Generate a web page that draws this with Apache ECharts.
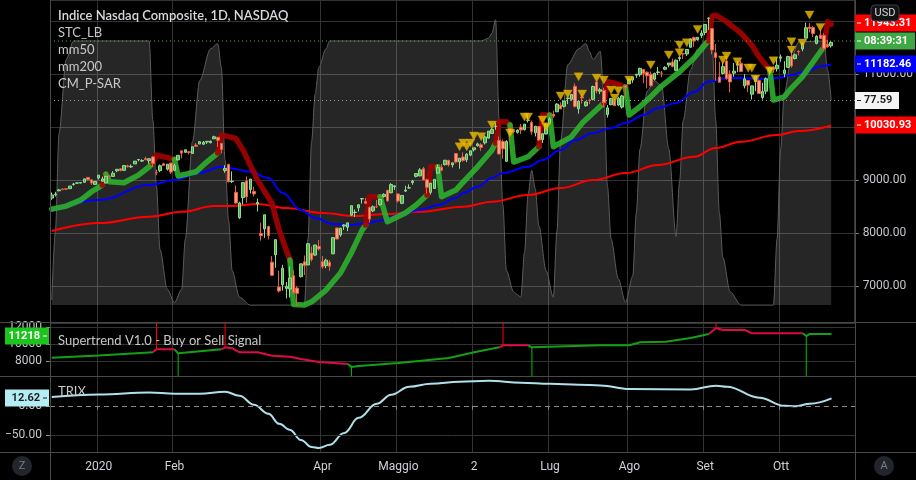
<!DOCTYPE html>
<html><head><meta charset="utf-8">
<script src="https://cdn.jsdelivr.net/npm/echarts@6/dist/echarts.min.js"></script>
<style>html,body{margin:0;padding:0;background:#000;}#c{width:916px;height:480px;}</style>
</head><body><div id="c"></div>
<script>
// ---- OHLC rows: [day, open, close, low, high] ----
const dec2019 = [[12,8660,8717,8626,8765],[13,8721,8735,8690,8779],[16,8797,8814,8790,8833],[17,8832,8823,8807,8839],[18,8836,8827,8817,8849],[19,8838,8887,8838,8887],[20,8917,8925,8895,8947],[23,8941,8946,8934,8956],[24,8944,8952,8937,8953],[26,8958,9023,8958,9023],[27,9050,9007,8988,9052],[30,9004,8945,8910,9012],[31,8918,8973,8912,8976]];
const jan2020 = [[2,9039,9093,9011,9093],[3,8977,9021,8977,9066],[6,8943,9071,8943,9072],[7,9070,9069,9043,9092],[8,9069,9129,9069,9168],[9,9175,9203,9149,9203],[10,9213,9179,9164,9218],[13,9183,9274,9183,9274],[14,9271,9251,9239,9292],[15,9248,9259,9232,9294],[16,9305,9357,9305,9357],[17,9384,9389,9354,9389],[21,9358,9370,9343,9393],[22,9405,9383,9378,9439],[23,9366,9402,9309,9402],[24,9437,9315,9246,9451],[27,9140,9139,9090,9196],[28,9178,9270,9150,9294],[29,9307,9276,9266,9329],[30,9205,9299,9180,9300],[31,9322,9151,9114,9324]];
const feb2020 = [[3,9183,9273,9181,9307],[4,9381,9467,9368,9467],[5,9552,9509,9410,9552],[6,9524,9572,9517,9572],[7,9535,9520,9485,9546],[10,9503,9629,9501,9629],[11,9661,9639,9622,9697],[12,9681,9726,9681,9726],[13,9676,9712,9672,9738],[14,9719,9732,9681,9732],[18,9704,9733,9696,9747],[19,9779,9817,9779,9838],[20,9807,9751,9627,9816],[21,9693,9577,9505,9695],[24,9180,9221,9138,9280],[25,9298,8966,8957,9303],[26,8970,8980,8943,9163],[27,8769,8566,8550,8899],[28,8290,8567,8264,8590]];
const mar2020 = [[2,8667,8952,8535,8952],[3,8986,8684,8573,9071],[4,8820,9019,8747,9019],[5,8785,8738,8689,8876],[6,8550,8576,8407,8650],[9,7991,7950,7857,8196],[10,8079,8344,7908,8345],[11,8123,7952,7878,8139],[12,7450,7201,7188,7565],[13,7589,7875,7343,7875],[16,6981,6905,6877,7290],[17,7025,7335,6914,7400],[18,6954,6990,6766,7075],[19,6944,7151,6781,7367],[20,7194,6880,6855,7297],[23,6961,6861,6631,7000],[24,7177,7418,7160,7418],[25,7458,7385,7207,7576],[26,7398,7798,7396,7798],[27,7621,7502,7461,7746],[30,7583,7774,7574,7774],[31,7748,7700,7670,7870]];
const apr2020 = [[1,7459,7361,7328,7566],[2,7383,7487,7335,7515],[3,7449,7374,7286,7490],[6,7607,7913,7602,7914],[7,8095,7887,7885,8095],[8,7964,8091,7929,8096],[9,8131,8153,8058,8167],[13,8110,8192,8036,8192],[14,8338,8516,8324,8516],[15,8387,8393,8304,8444],[16,8476,8533,8406,8540],[17,8644,8650,8556,8650],[20,8594,8561,8560,8661],[21,8484,8263,8196,8500],[22,8418,8495,8395,8521],[23,8498,8494,8473,8625],[24,8534,8634,8517,8634],[27,8689,8730,8668,8750],[28,8807,8607,8592,8814],[29,8761,8915,8748,8942],[30,8877,8890,8815,8902]];
const may2020 = [[1,8738,8605,8575,8746],[4,8561,8710,8544,8711],[5,8792,8810,8776,8893],[6,8851,8854,8838,8918],[7,8953,8980,8911,9004],[8,9070,9122,9050,9122],[11,9080,9192,9071,9224],[12,9216,9002,9002,9249],[13,9006,8863,8745,9027],[14,8768,8943,8727,8945],[15,8842,9014,8830,9017],[18,9131,9235,9119,9292],[19,9240,9185,9179,9305],[20,9291,9375,9276,9377],[21,9370,9284,9252,9385],[22,9288,9325,9237,9330],[26,9501,9340,9313,9505],[27,9346,9412,9214,9414],[28,9436,9369,9341,9523],[29,9382,9490,9338,9505]];
const jun2020 = [[1,9471,9552,9450,9553],[2,9573,9608,9540,9608],[3,9648,9683,9634,9704],[4,9665,9616,9552,9697],[5,9703,9814,9672,9845],[8,9793,9924,9779,9927],[9,9881,9953,9870,9990],[10,10012,10020,9949,10087],[11,9751,9493,9489,9822],[12,9728,9589,9403,9767],[15,9356,9726,9345,9752],[16,9979,9896,9729,9986],[17,9934,9911,9885,9953],[18,9901,9943,9877,9956],[19,10001,9946,9869,10058],[22,9952,10056,9937,10059],[23,10126,10131,10087,10221],[24,10087,9910,9856,10123],[25,9892,10017,9824,10017],[26,10010,9757,9736,10022],[29,9764,9875,9699,9875],[30,9870,10059,9867,10075]];
const jul2020 = [[1,10070,10155,10057,10185],[2,10242,10208,10174,10310],[6,10289,10434,10289,10451],[7,10415,10344,10341,10469],[8,10392,10492,10374,10493],[9,10540,10548,10434,10564],[10,10524,10617,10500,10617],[13,10771,10391,10370,10825],[14,10346,10488,10254,10490],[15,10569,10550,10444,10615],[16,10404,10474,10386,10487],[17,10508,10503,10434,10536],[20,10525,10767,10506,10783],[21,10853,10680,10637,10853],[22,10678,10706,10624,10741],[23,10693,10462,10371,10742],[24,10236,10363,10181,10416],[27,10422,10537,10415,10552],[28,10513,10403,10402,10532],[29,10418,10543,10400,10575],[30,10379,10588,10351,10608],[31,10783,10745,10561,10783]];
const aug2020 = [[3,10816,10903,10816,10923],[4,10890,10941,10835,10950],[5,10981,10999,10929,11002],[6,10990,11109,10951,11121],[7,11088,11011,10829,11099],[10,11037,10968,10730,11050],[11,11000,10782,10770,11047],[12,10904,11012,10880,11029],[13,11029,11042,10986,11136],[14,11020,11019,10941,11059],[17,11092,11129,11075,11149],[18,11173,11210,11130,11210],[19,11229,11146,11128,11293],[20,11072,11264,11060,11275],[21,11294,11312,11244,11342],[24,11388,11380,11290,11403],[25,11382,11466,11343,11466],[26,11508,11665,11502,11677],[27,11691,11625,11516,11708],[28,11652,11696,11634,11697],[31,11729,11775,11679,11830]];
const sep2020 = [[1,11787,11939,11736,11940],[2,12054,12056,11833,12074],[3,11861,11458,11373,11861],[4,11406,11313,10876,11568],[8,10945,10847,10846,11231],[9,11014,11141,10994,11229],[10,11249,10919,10895,11325],[11,11003,10854,10655,11072],[14,11019,11056,10951,11211],[15,11169,11190,11038,11245],[16,11207,11050,11045,11257],[17,10780,10910,10731,11001],[18,10880,10793,10661,10883],[21,10622,10778,10520,10784],[22,10861,10964,10679,10970],[23,10878,10633,10632,10899],[24,10557,10672,10520,10834],[25,10679,10914,10619,10939],[28,11083,11118,10977,11125],[29,11121,11085,11028,11146],[30,11102,11168,11049,11308]];
const oct2020 = [[1,11302,11326,11234,11371],[2,11013,11076,10942,11244],[5,11128,11332,11120,11346],[6,11338,11155,11124,11449],[7,11294,11365,11276,11389],[8,11431,11420,11353,11451],[9,11476,11580,11433,11584],[12,11680,11876,11680,11972],[13,11890,11863,11787,11967],[14,11880,11768,11700,11910],[15,11580,11714,11562,11734],[16,11740,11672,11664,11842],[19,11729,11479,11448,11774],[20,11566,11517,11499,11648],[21,11534,11600,11500,11625]];

// time-axis tick labels (date -> label)
const tickDates = [['2020-01-02','2020'],['2020-02-03','Feb'],['2020-04-01','Apr'],['2020-05-01','Maggio'],['2020-06-02','2'],['2020-07-01','Lug'],['2020-08-03','Ago'],['2020-09-01','Set'],['2020-10-01','Ott']];

// indicator values as [barIndex, value]
const mm50 = [[0,8420],[13,8622],[27,8906],[34,9000],[41,9138],[47,9251],[49,9227],[55,9157],[60,9038],[64,8755],[69,8434],[73,8283],[78,8169],[83,8150],[87,8188],[92,8245],[96,8339],[102,8434],[107,8528],[112,8660],[114,8755],[118,8874],[122,9038],[125,9132],[132,9251],[136,9378],[141,9566],[145,9755],[150,9887],[155,9982],[159,10076],[164,10227],[168,10359],[173,10454],[178,10661],[182,10856],[187,10926],[191,10926],[196,10907],[201,10926],[205,10982],[210,11077],[213,11152],[216,11182]];
const mm200 = [[0,8037],[13,8188],[27,8307],[36,8401],[45,8509],[50,8509],[57,8547],[65,8471],[75,8377],[84,8320],[93,8358],[102,8401],[114,8496],[122,8590],[132,8717],[141,8849],[150,9000],[159,9132],[168,9283],[178,9440],[184,9604],[191,9723],[201,9850],[207,9925],[216,10031]];
const stc = [[0,2],[1,28],[2,65],[4,93],[6,100],[27,100],[28,70],[29,45],[30,21],[32,6],[34,1],[36,6],[37,25],[39,62],[41,85],[44,97],[46,99],[47,90],[48,55],[49,32],[50,13],[52,3],[55,0],[70,0],[71,25],[72,62],[73,80],[74,90],[76,97],[77,100],[119,100],[121,101],[122,103],[123,108],[124,70],[125,38],[126,13],[128,5],[129,4],[130,3],[131,20],[132,42],[133,51],[134,44],[135,30],[137,13],[139,3],[140,28],[141,62],[143,91],[146,97],[148,99],[149,96],[150,93],[152,96],[153,80],[154,45],[155,25],[157,10],[159,1],[161,11],[162,35],[163,59],[165,81],[167,85],[169,83],[171,59],[173,26],[174,47],[175,70],[177,89],[179,97],[181,100],[183,100],[184,70],[185,35],[186,18],[188,5],[191,0],[200,0],[201,25],[202,59],[203,80],[205,94],[207,99.6],[214,100],[215,89],[216,77.59]];
// CM_P-SAR: [barIndex, value, colour of segment ending here]
const sar = [[0,8452,'g'],[4,8509,'g'],[8,8622,'g'],[11,8779,'g'],[14,8906,'g'],[15,9113,'r'],[16,8968,'g'],[20,8949,'g'],[24,9094,'g'],[27,9251,'g'],[28,9321,'g'],[29,9472,'r'],[31,9440,'r'],[34,9391,'r'],[35,9076,'g'],[40,9157,'g'],[43,9345,'g'],[46,9510,'g'],[47,9850,'r'],[51,9787,'r'],[53,9566,'r'],[57,9000,'r'],[61,8566,'r'],[63,8056,'r'],[65,7678,'r'],[66,7490,'r'],[67,6650,'g'],[70,6640,'g'],[72,6702,'g'],[76,6923,'g'],[80,7244,'g'],[83,7622,'g'],[86,8056,'g'],[87,8150,'g'],[88,8685,'r'],[91,8685,'r'],[93,8213,'g'],[98,8377,'g'],[101,8528,'g'],[104,8717,'g'],[105,9251,'r'],[107,9251,'r'],[108,8685,'g'],[112,8811,'g'],[114,8962,'g'],[118,9251,'g'],[122,9566,'g'],[123,9698,'g'],[124,10100,'r'],[126,10100,'r'],[127,10038,'r'],[128,9340,'g'],[132,9440,'g'],[135,9629,'g'],[136,10227,'r'],[138,10227,'r'],[139,9629,'g'],[144,9817,'g'],[147,10076,'g'],[150,10265,'g'],[153,10454,'g'],[154,10856,'r'],[156,10831,'r'],[159,10756,'r'],[160,10227,'g'],[163,10384,'g'],[166,10573,'g'],[169,10775,'g'],[174,11045,'g'],[178,11303,'g'],[181,11549,'g'],[182,11630,'g'],[183,12096,'r'],[184,12115,'r'],[187,11989,'r'],[191,11775,'r'],[194,11549,'r'],[196,11328,'r'],[199,11077,'r'],[200,10510,'g'],[203,10573,'g'],[205,10737,'g'],[208,10950,'g'],[211,11233,'g'],[214,11517,'g'],[215,11989,'r'],[216,11943,'r']];
const signals = [[113,9629],[114,9698],[115,9629],[116,9698],[117,9831],[119,9818],[122,10038],[127,9887],[131,10189],[132,10189],[136,10133],[137,10006],[141,10586],[143,10624],[146,10950],[147,10624],[151,10926],[153,10888],[155,10699],[156,10548],[157,10686],[160,10888],[166,11171],[171,11360],[174,11549],[174,11403],[176,11592],[179,11845],[186,11266],[187,11341],[190,11233],[193,11114],[194,11114],[195,10907],[199,11064],[200,11252],[205,11611],[205,11454],[208,11586],[210,12115],[213,11883]];
// Supertrend: [barIndex, value, colour]
const supertrend = [[0,8429,'g'],[13,8687,'g'],[28,9062,'g'],[29,9414,'r'],[34,9414,'r'],[35,8945,'g'],[47,9414,'g'],[48,9649,'r'],[50,9532,'r'],[52,9062,'r'],[57,9062,'r'],[61,8664,'r'],[66,8546,'r'],[69,8277,'r'],[74,7925,'r'],[82,7690,'r'],[83,7350,'g'],[85,7455,'g'],[96,7807,'g'],[110,8394,'g'],[117,9062,'g'],[124,9649,'g'],[125,9884,'r'],[132,9884,'r'],[133,9649,'g'],[152,9884,'g'],[160,9884,'g'],[163,10236,'g'],[170,10307,'g'],[177,10740,'g'],[182,11209,'g'],[184,11912,'r'],[186,11678,'r'],[192,11678,'r'],[194,11290,'r'],[208,11290,'r'],[209,10972,'g'],[210,11218,'g'],[216,11218,'g']];
const sellSignals = [[29,9414],[48,9649],[125,9884],[184,11912]];
const buySignals = [[35,8945],[83,7350],[133,9649],[209,10972]];
const trix = [[0,15],[13,19.5],[27,22.9],[34,20.7],[41,20.7],[48,24.1],[52,17.2],[56,1.7],[60,-13.8],[63,-31],[66,-41.4],[69,-58.6],[72,-70.7],[74,-72.4],[77,-67],[81,-46.6],[85,-20.7],[90,3.4],[94,19],[99,32.8],[105,37.9],[113,41.4],[121,43.1],[130,39.7],[138,37.9],[146,36.2],[152,35],[160,28.8],[177,28.1],[184,34.5],[187,32.8],[196,13.8],[203,0],[206,-0.9],[210,3.4],[216,12.62]];

// ---- build tables ----
const months = [['2019-12',dec2019],['2020-01',jan2020],['2020-02',feb2020],['2020-03',mar2020],['2020-04',apr2020],['2020-05',may2020],['2020-06',jun2020],['2020-07',jul2020],['2020-08',aug2020],['2020-09',sep2020],['2020-10',oct2020]];
const categories = [], candles = [];
months.forEach(([m, rows]) => rows.forEach(r => {
  categories.push(m + '-' + String(r[0]).padStart(2, '0'));
  candles.push([r[1], r[2], r[3], r[4]]);
}));
for (let i = 0; i < 6; i++) categories.push('pad' + i);
const tickOf = {}; tickDates.forEach(([d, l]) => tickOf[d] = l);
const isTick = (i, v) => tickOf[v] !== undefined;

function runs(points) {
  const out = []; let cur = null;
  points.forEach((p, i) => {
    if (i === 0) { cur = { flag: p[2], data: [[p[0], p[1]]] }; return; }
    if (p[2] !== cur.flag) { out.push(cur); const q = points[i - 1]; cur = { flag: p[2], data: [[q[0], q[1]]] }; }
    cur.data.push([p[0], p[1]]);
  });
  out.push(cur); return out;
}

const FONT = 'Roboto';
const series = [];
series.push({ type: 'line', xAxisIndex: 0, yAxisIndex: 1, data: stc, smooth: 0.3, smoothMonotone: 'x', symbol: 'none',
  lineStyle: { color: '#5c5c5c', width: 1 }, areaStyle: { color: 'rgba(255,255,255,0.21)' }, z: 1 });
series.push({ type: 'line', xAxisIndex: 0, yAxisIndex: 0, data: mm200, smooth: 0.4, smoothMonotone: 'x', symbol: 'none', lineStyle: { color: '#ff0000', width: 2 }, z: 3 });
series.push({ type: 'line', xAxisIndex: 0, yAxisIndex: 0, data: mm50, smooth: 0.4, smoothMonotone: 'x', symbol: 'none', lineStyle: { color: '#0000ff', width: 2 }, z: 3 });
runs(sar).forEach(r => series.push({ type: 'line', xAxisIndex: 0, yAxisIndex: 0, data: r.data, symbol: 'none',
  lineStyle: { color: r.flag === 'g' ? 'rgba(46,180,46,0.88)' : 'rgba(165,0,0,0.9)', width: 5.5, cap: 'round', join: 'round' }, z: 4 }));
series.push({ type: 'candlestick', xAxisIndex: 0, yAxisIndex: 0, data: candles, barWidth: 3,
  itemStyle: { color: '#4cb34c', color0: '#f6a287', borderColor: '#93dd93', borderColor0: '#ee5a3c', borderWidth: 1 }, z: 5 });
series.push({ type: 'scatter', xAxisIndex: 0, yAxisIndex: 0, data: signals, symbol: 'triangle', symbolRotate: 180, symbolSize: [9, 8],
  itemStyle: { color: '#f2c200', borderColor: '#c99700', borderWidth: 0.5 }, z: 6 });
runs(supertrend).forEach(r => series.push({ type: 'line', xAxisIndex: 1, yAxisIndex: 2, data: r.data, symbol: 'none',
  lineStyle: { color: r.flag === 'g' ? '#13a113' : '#dc0a45', width: 2 }, z: 3 }));
sellSignals.forEach(s => series.push({ type: 'line', xAxisIndex: 1, yAxisIndex: 2, data: [[s[0], 12500], [s[0], s[1]]], symbol: 'none', lineStyle: { color: '#ff0000', width: 1 }, z: 4 }));
buySignals.forEach(s => series.push({ type: 'line', xAxisIndex: 1, yAxisIndex: 2, data: [[s[0], s[1]], [s[0], 6200]], symbol: 'none', lineStyle: { color: '#00c000', width: 1 }, z: 4 }));
series.push({ type: 'line', xAxisIndex: 2, yAxisIndex: 3, data: trix, smooth: 0.4, smoothMonotone: 'x', symbol: 'none', lineStyle: { color: '#b0e0ec', width: 2 }, z: 3,
  markLine: { silent: true, symbol: 'none', label: { show: false }, data: [
    { yAxis: 0, lineStyle: { color: '#8a8a8a', type: [5, 4], width: 1 } },
    { yAxis: -50, lineStyle: { color: '#333', type: 'solid', width: 1 } }] } });

const gridCommon = { left: 50, right: 61 };
const xBase = (gi, showLabels) => ({
  type: 'category', gridIndex: gi, data: categories, boundaryGap: true,
  axisLine: { show: false },
  axisTick: { show: showLabels, interval: isTick, length: 4, lineStyle: { color: '#888' } },
  axisLabel: { show: showLabels, interval: isTick, formatter: v => tickOf[v] || '', color: '#cfd2d8', fontFamily: FONT, fontSize: 12, margin: 8 },
  splitLine: { show: true, interval: isTick, lineStyle: { color: '#333', width: 1 } }
});

const boxes = [];
function label(x, yc, w, fill, text, color, alignRight) {
  boxes.push({ type: 'rect', shape: { x: x, y: yc - 8.5, width: w, height: 17 }, style: { fill: fill }, z: 100 });
  boxes.push({ type: 'text', x: alignRight ? x + w - 9 : x + 9, y: yc, style: { text: text, fill: color, font: 'bold 11px ' + FONT, align: alignRight ? 'right' : 'left', verticalAlign: 'middle' }, z: 101 });
  boxes.push({ type: 'line', shape: alignRight ? { x1: x + w - 6, y1: yc, x2: x + w - 2, y2: yc } : { x1: x + 2, y1: yc, x2: x + 6, y2: yc }, style: { stroke: color, lineWidth: 1 }, z: 101 });
}
label(855, 23, 61, '#ff0000', '11943.31', '#ffffff');
label(855, 41, 60, '#3fa844', '08:39:31', '#ffffff');
label(855, 64, 61, '#0000ff', '11182.46', '#ffffff');
label(855, 100.5, 44, '#f4f4f4', '77.59', '#1e1e1e');
label(855, 125, 61, '#ff0000', '10030.93', '#ffffff');
label(5, 336, 44, '#1ec41e', '11218', '#ffffff', true);
label(5, 398, 44, '#b4ecf4', '12.62', '#1e1e1e', true);

const txt = (x, y, t, font, fill) => ({ type: 'text', x: x, y: y, style: { text: t, font: font, fill: fill || '#c8c8c8', verticalAlign: 'middle' }, z: 90 });
const ln = (x1, y1, x2, y2, stroke, dash) => ({ type: 'line', shape: { x1, y1, x2, y2 }, style: { stroke: stroke, lineWidth: 1, lineDash: dash || null }, z: 80 });

const graphics = [
  ln(50, 41, 855, 41, '#4caf50', [1, 3]),
  ln(50, 100.5, 855, 100.5, '#9a9a9a', [1, 3]),
  ln(0, 322.5, 916, 322.5, '#4a4a4a'),
  ln(0, 376.5, 916, 376.5, '#4a4a4a'),
  ln(0, 452.5, 916, 452.5, '#4a4a4a'),
  ln(50.5, 0, 50.5, 480, '#4a4a4a'),
  ln(855.5, 0, 855.5, 480, '#4a4a4a'),
  txt(58, 16, 'Indice Nasdaq Composite, 1D, NASDAQ', '600 13px Lato', '#d6d8de'),
  txt(58, 33, 'STC_LB', '13px Lato'),
  txt(58, 50, 'mm50', '13px Lato'),
  txt(58, 67, 'mm200', '13px Lato'),
  txt(58, 84, 'CM_P-SAR', '13px Lato'),
  txt(58, 341, 'Supertrend V1.0 - Buy or Sell Signal', '13px Lato'),
  txt(58, 392, 'TRIX', '13px Lato'),
  { type: 'circle', shape: { cx: 22, cy: 466, r: 10 }, style: { fill: '#22252c' }, z: 90 },
  { type: 'text', x: 22, y: 466, style: { text: 'Z', font: '11px ' + FONT, fill: '#7a7d86', align: 'center', verticalAlign: 'middle' }, z: 91 },
  { type: 'circle', shape: { cx: 884, cy: 466, r: 10 }, style: { fill: '#22252c' }, z: 90 },
  { type: 'text', x: 884, y: 466, style: { text: 'A', font: '11px ' + FONT, fill: '#7a7d86', align: 'center', verticalAlign: 'middle' }, z: 91 }
].concat(boxes).concat([
  { type: 'rect', shape: { x: 871, y: 5, width: 28, height: 16, r: 4 }, style: { fill: '#131313', stroke: '#3c3f47', lineWidth: 1 }, z: 110 },
  { type: 'text', x: 885, y: 13, style: { text: 'USD', font: '11px ' + FONT, fill: '#d6d8de', align: 'center', verticalAlign: 'middle' }, z: 111 }
]);

const chart = echarts.init(document.getElementById('c'), null, { renderer: 'canvas' });
chart.setOption({
  backgroundColor: '#000',
  animation: false,
  grid: [
    Object.assign({ top: 0, height: 322 }, gridCommon),
    Object.assign({ top: 323, height: 53.7 }, gridCommon),
    Object.assign({ top: 376.7, height: 76 }, gridCommon)
  ],
  xAxis: [xBase(0, false), xBase(1, false), xBase(2, true)],
  yAxis: [
    { type: 'value', gridIndex: 0, position: 'right', min: 6320, max: 12400, scale: true,
      axisLine: { show: false }, axisTick: { show: true, length: 4, lineStyle: { color: '#888' } },
      axisLabel: { color: '#c4c6cc', fontFamily: FONT, fontSize: 12, margin: 8, showMinLabel: false, showMaxLabel: false, formatter: v => v.toFixed(2) },
      splitLine: { lineStyle: { color: '#333' } } },
    { type: 'value', gridIndex: 0, min: -6.4, max: 115.5, show: false },
    { type: 'value', gridIndex: 1, position: 'left', min: 6200, max: 12500, splitNumber: 3,
      axisLine: { show: false }, axisTick: { show: true, length: 4, lineStyle: { color: '#888' } },
      axisLabel: { color: '#c4c6cc', fontFamily: FONT, fontSize: 12, margin: 8, showMinLabel: false, showMaxLabel: false, formatter: v => String(v) },
      splitLine: { lineStyle: { color: '#333' } } },
    { type: 'value', gridIndex: 2, position: 'left', min: -80.5, max: 49.9, splitNumber: 3,
      axisLine: { show: false }, axisTick: { show: true, length: 4, lineStyle: { color: '#888' } },
      axisLabel: { color: '#c4c6cc', fontFamily: FONT, fontSize: 12, margin: 8, showMinLabel: false, showMaxLabel: false, formatter: v => (v < 0 ? '\u2212' : '') + Math.abs(v).toFixed(2) },
      splitLine: { show: false } }
  ],
  series: series,
  graphic: graphics
});
</script>
</body></html>
